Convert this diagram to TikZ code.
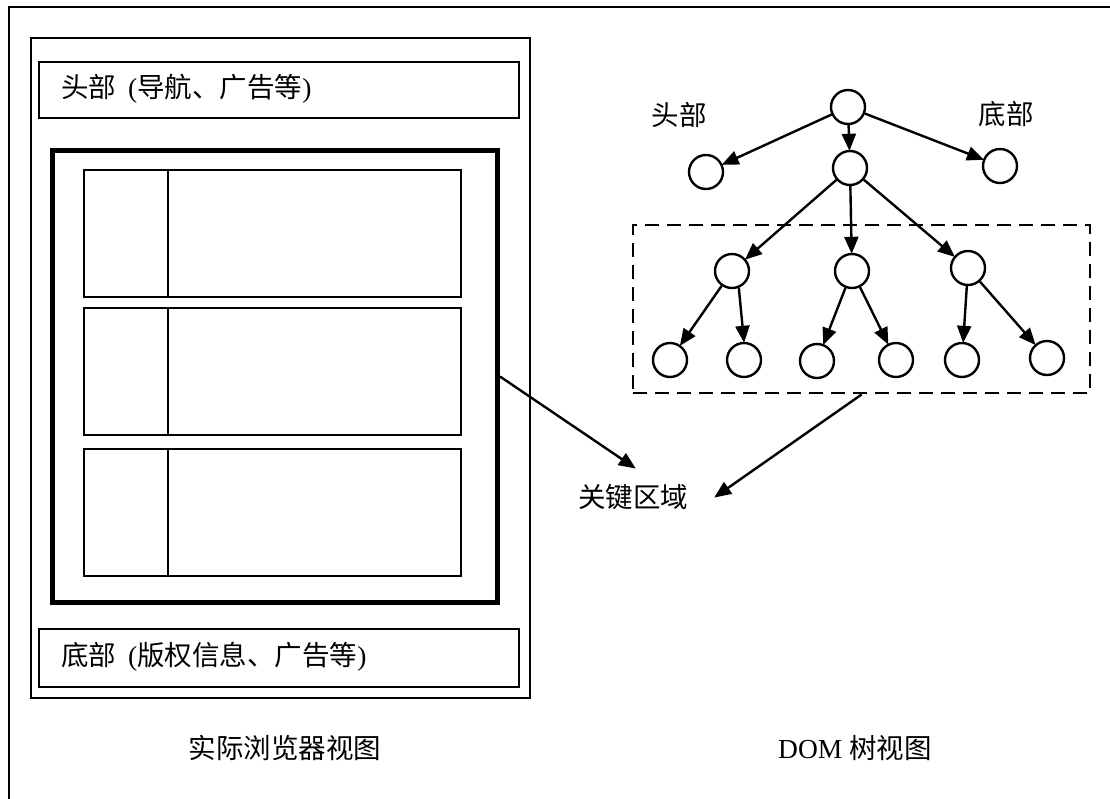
\documentclass[tikz,border=0pt]{standalone}
\usepackage{fontspec}
\setmainfont{Liberation Serif}
\newfontfamily\cjk{Noto Sans CJK SC}
\usetikzlibrary{arrows.meta}
\tikzset{
  thin box/.style={draw, line width=1.5pt, inner sep=0pt, anchor=north west},
  row box/.style={draw, line width=1.8pt, inner sep=0pt, anchor=north west},
  tnode/.style={draw, circle, line width=2.4pt, minimum size=34pt, inner sep=0pt},
  arr/.style={line width=2.4pt, -{Triangle[length=17pt,width=14pt]}, shorten >=-1pt},
  lbl/.style={font=\fontsize{27.5pt}{32pt}\selectfont, inner sep=0pt},
}
\begin{document}
\begin{tikzpicture}[x=1pt,y=-1pt]
\useasboundingbox (0,0) rectangle (1110,798);
% outer frame (clipped on right and bottom)
\draw[line width=1.6pt] (1112,7) -- (9,7) -- (9,800);
% browser view
\node[thin box, minimum width=499pt, minimum height=660pt] (browser) at (30,37) {};
\node[row box, line width=2pt, minimum width=480pt, minimum height=56pt] (head) at (38,61) {};
\node[lbl, anchor=west] (headt) at (61,89) {{\cjk 头部}\hspace{12pt}({\cjk 导航、广告等})};
\node[draw, line width=5pt, inner sep=0pt, anchor=north west, minimum width=445pt, minimum height=452pt] (kbox) at (50,148) {};
\foreach \i/\y in {1/169,2/307,3/448}{
  \node[row box, minimum width=377pt, minimum height=127pt] (row\i) at (83,\y) {};
  \draw[line width=1.8pt] (168,\y) -- ++(0,127);
}
\node[row box, line width=2pt, minimum width=480pt, minimum height=58pt] (foot) at (38,628) {};
\node[lbl, anchor=west] (foott) at (61,657) {{\cjk 底部}\hspace{12pt}({\cjk 版权信息、广告等})};
\node[lbl] (bcap) at (285,748) {\cjk 实际浏览器视图};
\node[lbl] (dcap) at (855,748) {DOM {\cjk 树视图}};
% DOM tree
\node[tnode] (root) at (848,107) {};
\node[tnode] (hd) at (706,172) {};
\node[tnode] (body) at (850,168) {};
\node[tnode] (ft) at (1000,166) {};
\node[lbl] (hdl) at (679,115) {\cjk 头部};
\node[lbl] (ftl) at (1006,114) {\cjk 底部};
\node[tnode] (m1) at (732,271) {};
\node[tnode] (m2) at (852,271) {};
\node[tnode] (m3) at (968,268) {};
\node[tnode] (l1) at (670,360) {};
\node[tnode] (l2) at (744,360) {};
\node[tnode] (l3) at (817,361) {};
\node[tnode] (l4) at (896,360) {};
\node[tnode] (l5) at (962,360) {};
\node[tnode] (l6) at (1047,358) {};
\draw[arr] (root) -- (hd);
\draw[arr] (root) -- (body);
\draw[arr] (root) -- (ft);
\draw[arr] (body) -- (m1);
\draw[arr] (body) -- (m2);
\draw[arr] (body) -- (m3);
\draw[arr] (m1) -- (l1);
\draw[arr] (m1.-68) -- (l2.north);
\draw[arr] (m2) -- (l3);
\draw[arr] (m2) -- (l4);
\draw[arr] (m3) -- (l5);
\draw[arr] (m3) -- (l6);
\node[draw, dashed, dash pattern=on 14pt off 8pt, line width=2.4pt, inner sep=0pt, anchor=north west, minimum width=457pt, minimum height=168pt] (dbox) at (632,224) {};
% key region
\node[lbl] (key) at (633,497) {\cjk 关键区域};
\coordinate (t1) at (635,468);
\coordinate (t2) at (715,497);
\draw[arr] (kbox.east) -- (t1);
\draw[arr] (dbox.south) -- (t2);
\end{tikzpicture}
\end{document}
